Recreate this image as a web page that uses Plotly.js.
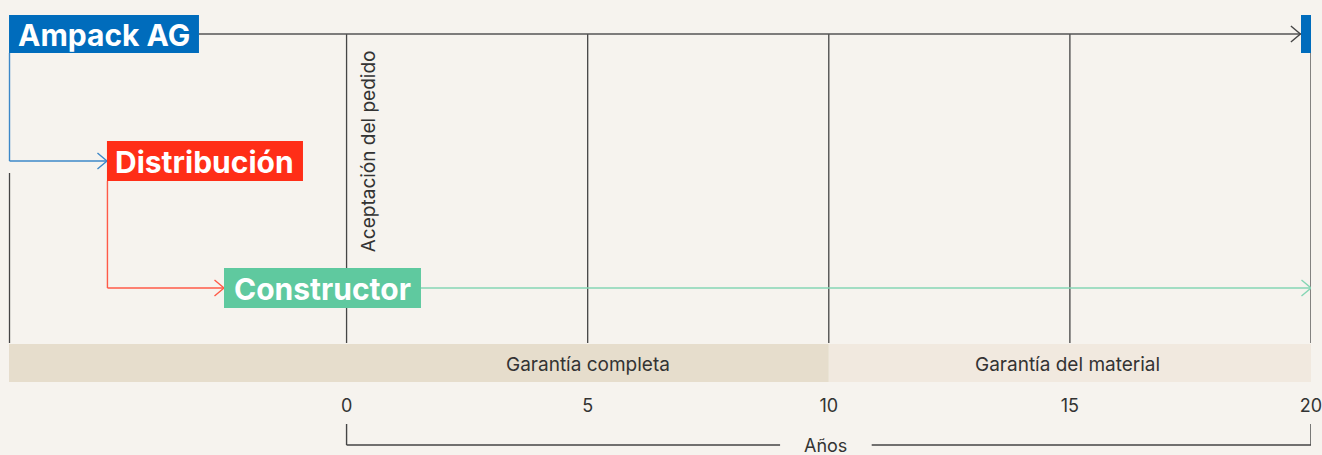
<!DOCTYPE html>
<html>
<head>
<meta charset="utf-8">
<script src="https://cdn.plot.ly/plotly-3.0.1.min.js"></script>
<style>html,body{margin:0;padding:0;background:#f6f3ee;}#chart{width:1322px;height:455px;}</style>
</head>
<body>
<div id="chart"></div>
<script>
// ---- data ----
const years = [0, 5, 10, 15, 20];
const yearLabels = ['0', '5', '10', '15', '20'];
const axisTitle = 'Años';
const actors = ['Ampack AG', 'Distribución', 'Constructor'];
const warrantyLabels = ['Garantía completa', 'Garantía del material'];
const warrantyStart = [-7, 10];
const warrantyEnd = [10, 20];
const milestoneLabel = 'Aceptación del pedido';
const milestoneYear = 0;

// ---- layout / style ----
const BG = '#f6f3ee';
const TXT = '#333333';
const GRAY = '#454545';
const actorFill = ['#006cbc', '#ff2e17', '#5fc99f'];
const actorLine = ['#3d88c8', '#ff5a47', '#86d6b4'];
const bandFill = ['#e6ddcc', '#f1e9df'];
const XMIN = -7, XMAX = 20;
// box geometry (x in years, y in px-from-top)
const boxX0 = [-7.0, -4.969, -2.542];
const boxX1 = [-3.061, -0.904, 1.543];
const boxY0 = [15, 141, 268];
const boxY1 = [53, 181, 308];
const rowY = [34, 161, 288];
const gridTop = 34, gridBot = 343;
const bandY0 = 344, bandY1 = 382;
const CH = 0.197, CV = 8; // chevron size

const shapes = [];
const annotations = [];
function line(x0, y0, x1, y1, color, w) {
  shapes.push({type: 'line', xref: 'x', yref: 'y', x0, y0, x1, y1, line: {color, width: w}});
}
function chevron(x, y, color, w) {
  shapes.push({type: 'path', xref: 'x', yref: 'y',
    path: `M ${x - CH} ${y - CV} L ${x} ${y} L ${x - CH} ${y + CV}`,
    line: {color, width: w}});
}

// warranty bands
warrantyLabels.forEach((lab, i) => {
  shapes.push({type: 'rect', xref: 'x', yref: 'y', x0: warrantyStart[i], x1: warrantyEnd[i],
    y0: bandY0, y1: bandY1, fillcolor: bandFill[i], line: {width: 0}, layer: 'below'});
  const cx = i === 0 ? (milestoneYear + warrantyEnd[i]) / 2 : (warrantyStart[i] + warrantyEnd[i]) / 2 - 0.05;
  annotations.push({x: cx, y: (bandY0 + bandY1) / 2 + 1, xref: 'x', yref: 'y', text: lab,
    showarrow: false, font: {family: 'Inter, sans-serif', size: 19, color: TXT}});
});

// vertical grid lines at year ticks
years.forEach(v => {
  if (v === XMAX) line(v, boxY1[0], v, gridBot, GRAY, 1.3);
  else line(v, gridTop, v, gridBot, GRAY, 1.3);
});
// left edge line
line(XMIN + 0.01, 173, XMIN + 0.01, gridBot, GRAY, 1.3);

// Ampack top line to end
line(boxX1[0], rowY[0], XMAX - 0.208, rowY[0], '#555555', 1.6);
chevron(XMAX - 0.22, rowY[0], GRAY, 1.4);
shapes.push({type: 'rect', xref: 'x', yref: 'y', x0: XMAX - 0.208, x1: XMAX, y0: boxY0[0], y1: boxY1[0],
  fillcolor: actorFill[0], line: {width: 0}});

// connectors
for (let i = 0; i < 2; i++) {
  const xs = boxX0[i] + 0.01;
  line(xs, boxY1[i], xs, rowY[i + 1], actorLine[i], 1.4);
  line(xs, rowY[i + 1], boxX0[i + 1], rowY[i + 1], actorLine[i], 1.4);
  chevron(boxX0[i + 1], rowY[i + 1], actorLine[i], 1.4);
}
// constructor line to end
line(boxX1[2], rowY[2], XMAX, rowY[2], actorLine[2], 1.6);
chevron(XMAX, rowY[2], actorLine[2], 1.4);

// actor boxes
actors.forEach((a, i) => {
  shapes.push({type: 'rect', xref: 'x', yref: 'y', x0: boxX0[i], x1: boxX1[i], y0: boxY0[i], y1: boxY1[i],
    fillcolor: actorFill[i], line: {width: 0}});
  annotations.push({x: (boxX0[i] + boxX1[i]) / 2, y: (boxY0[i] + boxY1[i]) / 2 + 1, xref: 'x', yref: 'y',
    text: a, showarrow: false, font: {family: 'Inter, sans-serif', size: 30, color: '#ffffff', weight: 700}});
});

// milestone label
annotations.push({x: milestoneYear + 0.45, y: 151, xref: 'x', yref: 'y', text: milestoneLabel,
  textangle: -90, showarrow: false, font: {family: 'Inter, sans-serif', size: 19, color: TXT}});

// bottom bracket
const y0v = years[0], y1v = years[years.length - 1];
const midV = (y0v + y1v) / 2 - 0.06;
line(y0v, 424, y0v, 445, GRAY, 1.4);
line(y1v, 424, y1v, 445, GRAY, 1.4);
line(y0v, 445, midV - 0.95, 445, GRAY, 1.4);
line(midV + 0.95, 445, y1v, 445, GRAY, 1.4);
annotations.push({x: midV, y: 445, xref: 'x', yref: 'y',
  text: axisTitle, showarrow: false,
  font: {family: 'Inter, sans-serif', size: 18, color: TXT}});

const layout = {
  width: 1322, height: 455,
  margin: {l: 7, r: 11, t: 0, b: 0, pad: 0},
  paper_bgcolor: BG, plot_bgcolor: BG,
  showlegend: false,
  xaxis: {range: [-7.042, XMAX], tickvals: years, ticktext: yearLabels, anchor: 'free', position: 0.1363,
    showgrid: false, zeroline: false, showline: false, ticks: '', fixedrange: true,
    ticklabeloverflow: 'allow',
    tickfont: {family: 'Inter, sans-serif', size: 18, color: TXT}},
  yaxis: {range: [455, 0], visible: false, fixedrange: true},
  shapes, annotations
};
Plotly.newPlot('chart', [{x: years, y: years.map(() => null), type: 'scatter', mode: 'lines', hoverinfo: 'skip'}], layout, {staticPlot: true});
</script>
</body>
</html>
